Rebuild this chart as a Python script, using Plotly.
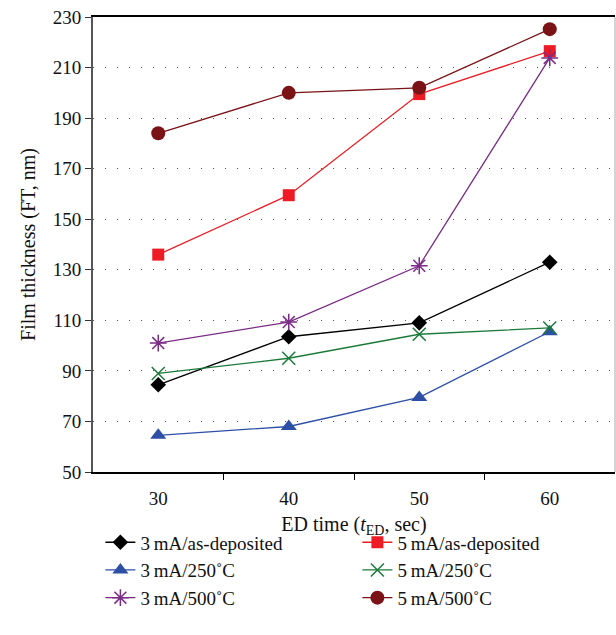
import plotly.graph_objects as go

times = [30, 40, 50, 60]
ma3_asdep = [84.5, 103.5, 109, 133]
ma5_asdep = [136, 159.5, 199.5, 216.5]
ma3_250 = [64.5, 68, 79.5, 105.5]
ma5_250 = [89, 95, 104.5, 107]
ma3_500 = [101, 109.3, 131.6, 213.8]
ma5_500 = [184, 200, 202, 225.2]

names = ["3\u2009mA/as-deposited", "5\u2009mA/as-deposited",
         "3\u2009mA/250\u02daC", "5\u2009mA/250\u02daC",
         "3\u2009mA/500\u02daC", "5\u2009mA/500\u02daC"]
series = [ma3_asdep, ma5_asdep, ma3_250, ma5_250, ma3_500, ma5_500]
colors = ["#000000", "#ED1C24", "#2E4FA6", "#1B7A3A", "#7A2C86", "#7A1216"]
symbols = ["diamond", "square", "triangle-up", "x-thin-open", "asterisk-open", "circle"]
sizes = [12, 12, 14, 13, 14, 14]

FONT = "Liberation Serif"
fig = go.Figure()
for n, s, c, sym, sz in zip(names, series, colors, symbols, sizes):
    mk = dict(symbol=sym, size=sz, color=c)
    if "open" in sym:
        mk["line"] = dict(color=c, width=1.5)
    else:
        mk["line"] = dict(width=0)
    fig.add_trace(go.Scatter(x=times, y=s, name=n, mode="lines+markers",
                             line=dict(color=c, width=1.3), marker=mk))

fig.update_layout(
    width=616, height=635,
    margin=dict(l=93, r=1, t=17, b=163, autoexpand=False),
    paper_bgcolor="white", plot_bgcolor="white",
    font=dict(family=FONT, size=20, color="#111"),
    showlegend=True,
    legend=dict(orientation="h", x=-0.005, xanchor="left", y=-0.113, yanchor="top",
                entrywidth=202, entrywidthmode="pixels", indentation=10,
                font=dict(family=FONT, size=19), tracegroupgap=0,
                itemsizing="trace", traceorder="normal"),
    xaxis=dict(range=[25, 65], tickvals=times, ticktext=[str(t) for t in times],
               ticks="", showgrid=False, showline=True, linecolor="black",
               linewidth=1.5, mirror=True, zeroline=False,
               ticklabelstandoff=8, tickfont=dict(size=19),
               minor=dict(tickvals=[35, 45, 55], ticks="outside", ticklen=6,
                          tickcolor="black", tickwidth=1.3, showgrid=False),
               title=dict(text="ED time (<i>t</i><sub>ED</sub>, sec)", standoff=9,
                          font=dict(family=FONT, size=20))),
    yaxis=dict(range=[50, 230], tickvals=list(range(50, 231, 20)),
               ticks="outside", ticklen=6, tickcolor="#333", tickwidth=1.3,
               showline=True, linecolor="#555", linewidth=2, zeroline=False,
               tickfont=dict(size=19),
               showgrid=True, gridcolor="#555", gridwidth=1, griddash="1px,11px",
               title=dict(text="Film thickness (FT, nm)", standoff=12,
                          font=dict(family=FONT, size=20))),
    shapes=[dict(type="line", xref="paper", yref="paper", x0=1, x1=1, y0=0, y1=1,
                 line=dict(color="#aaa", width=1))],
)
fig.write_html("out.html")
